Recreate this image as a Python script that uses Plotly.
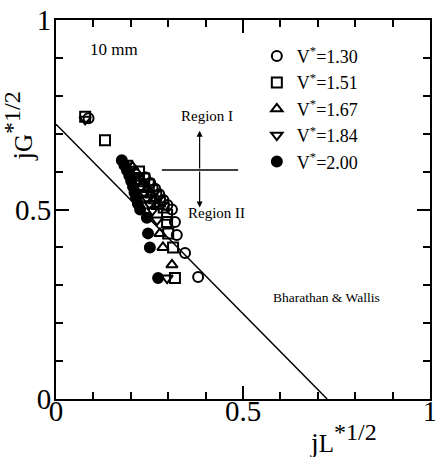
import plotly.graph_objects as go

# ---- data ----
v130_x = [0.087, 0.238, 0.252, 0.265, 0.276, 0.287, 0.298, 0.310, 0.318, 0.323, 0.345, 0.380]
v130_y = [0.741, 0.585, 0.570, 0.555, 0.540, 0.525, 0.512, 0.500, 0.467, 0.433, 0.385, 0.322]

v151_x = [0.078, 0.131, 0.222, 0.236, 0.248, 0.258, 0.268, 0.278, 0.288, 0.297, 0.297, 0.300, 0.313, 0.318]
v151_y = [0.745, 0.683, 0.600, 0.582, 0.566, 0.551, 0.536, 0.521, 0.505, 0.486, 0.467, 0.437, 0.400, 0.319]

v167_x = [0.205, 0.215, 0.225, 0.235, 0.245, 0.254, 0.262, 0.270, 0.278, 0.286, 0.310]
v167_y = [0.612, 0.598, 0.583, 0.568, 0.553, 0.538, 0.523, 0.508, 0.437, 0.400, 0.354]

v184_x = [0.078, 0.190, 0.200, 0.210, 0.219, 0.227, 0.235, 0.242, 0.250, 0.258, 0.270, 0.297]
v184_y = [0.738, 0.622, 0.606, 0.590, 0.575, 0.560, 0.545, 0.530, 0.515, 0.498, 0.472, 0.319]

v200_x = [0.176, 0.183, 0.190, 0.196, 0.201, 0.206, 0.210, 0.214, 0.219, 0.225, 0.243, 0.246, 0.251, 0.273]
v200_y = [0.630, 0.617, 0.603, 0.589, 0.575, 0.560, 0.545, 0.530, 0.515, 0.500, 0.478, 0.437, 0.400, 0.319]

bw_x = [0.0, 0.725]
bw_y = [0.725, 0.0]

series = [
    ("V<sup>*</sup>=1.30", v130_x, v130_y, "circle-open"),
    ("V<sup>*</sup>=1.51", v151_x, v151_y, "square-open"),
    ("V<sup>*</sup>=1.67", v167_x, v167_y, "triangle-up-open"),
    ("V<sup>*</sup>=1.84", v184_x, v184_y, "triangle-down-open"),
    ("V<sup>*</sup>=2.00", v200_x, v200_y, "circle"),
]

SERIF = "Liberation Serif, Times New Roman, serif"

fig = go.Figure()

fig.add_trace(go.Scatter(x=bw_x, y=bw_y, mode="lines",
                         line=dict(color="black", width=1.5),
                         showlegend=False, hoverinfo="skip"))

for name, xs, ys, sym in series:
    fig.add_trace(go.Scatter(
        x=xs, y=ys, mode="markers", name=name,
        marker=dict(symbol=sym, size=10, color="black",
                    line=dict(color="black", width=2)),
    ))

# cross with arrows
fig.add_shape(type="line", x0=0.283, x1=0.487, y0=0.604, y1=0.604,
              line=dict(color="black", width=1.5))
fig.add_annotation(x=0.384, y=0.708, ax=0.384, ay=0.604, xref="x", yref="y",
                   axref="x", ayref="y", text="", showarrow=True,
                   arrowhead=2, arrowsize=1, arrowwidth=1.2, arrowcolor="black")
fig.add_annotation(x=0.384, y=0.505, ax=0.384, ay=0.604, xref="x", yref="y",
                   axref="x", ayref="y", text="", showarrow=True,
                   arrowhead=2, arrowsize=1, arrowwidth=1.2, arrowcolor="black")

txt = dict(showarrow=False, xref="x", yref="y", font=dict(family=SERIF, size=15, color="black"))
fig.add_annotation(x=0.404, y=0.748, text="Region I", **txt)
fig.add_annotation(x=0.430, y=0.492, text="Region II", **txt)
fig.add_annotation(x=0.722, y=0.268, text="Bharathan &amp; Wallis",
                   **{**txt, "font": dict(family=SERIF, size=13.5, color="black")})
fig.add_annotation(x=0.155, y=0.921, text="10 mm",
                   **{**txt, "font": dict(family=SERIF, size=17, color="black")})

# axis titles
fig.add_annotation(xref="paper", yref="paper", x=0.768, y=-0.104, showarrow=False,
                   text="j<span style='font-size:25px'>L</span><sup><span style='font-size:24px'>*1/2</span></sup>",
                   font=dict(family=SERIF, size=28, color="black"), xanchor="center", yanchor="middle")
fig.add_annotation(xref="paper", yref="paper", x=-0.1, y=0.72, showarrow=False, textangle=-90,
                   text="j<span style='font-size:25px'>G</span><sup><span style='font-size:24px'>*1/2</span></sup>",
                   font=dict(family=SERIF, size=28, color="black"), xanchor="center", yanchor="middle")

axis_common = dict(
    range=[0, 1], showline=True, linecolor="black", linewidth=2, mirror="ticks",
    ticks="inside", ticklen=13, tickwidth=1.5, tickcolor="black",
    tickvals=[0, 0.5, 1], ticktext=["0", "0.5", "1"],
    minor=dict(dtick=0.1, ticks="inside", ticklen=7, tickwidth=1.5, tickcolor="black", showgrid=False),
    showgrid=False, zeroline=False, automargin=False,
    tickfont=dict(family=SERIF, size=29, color="black"),
    fixedrange=True,
)

fig.update_layout(
    width=435, height=457,
    margin=dict(l=56, r=5, t=20, b=58),
    paper_bgcolor="white", plot_bgcolor="white",
    xaxis={**axis_common, "ticklabelstandoff": -15, "ticklabeloverflow": "allow"},
    yaxis={**axis_common, "ticklabelstandoff": -3},
    legend=dict(x=0.537, y=0.953, xanchor="left", yanchor="top",
                font=dict(family=SERIF, size=18, color="black"),
                bgcolor="rgba(0,0,0,0)", tracegroupgap=0, itemwidth=30),
    showlegend=True,
)

fig.write_html("out.html", config={"displayModeBar": False},
               post_script="document.body.style.margin='0px';")
